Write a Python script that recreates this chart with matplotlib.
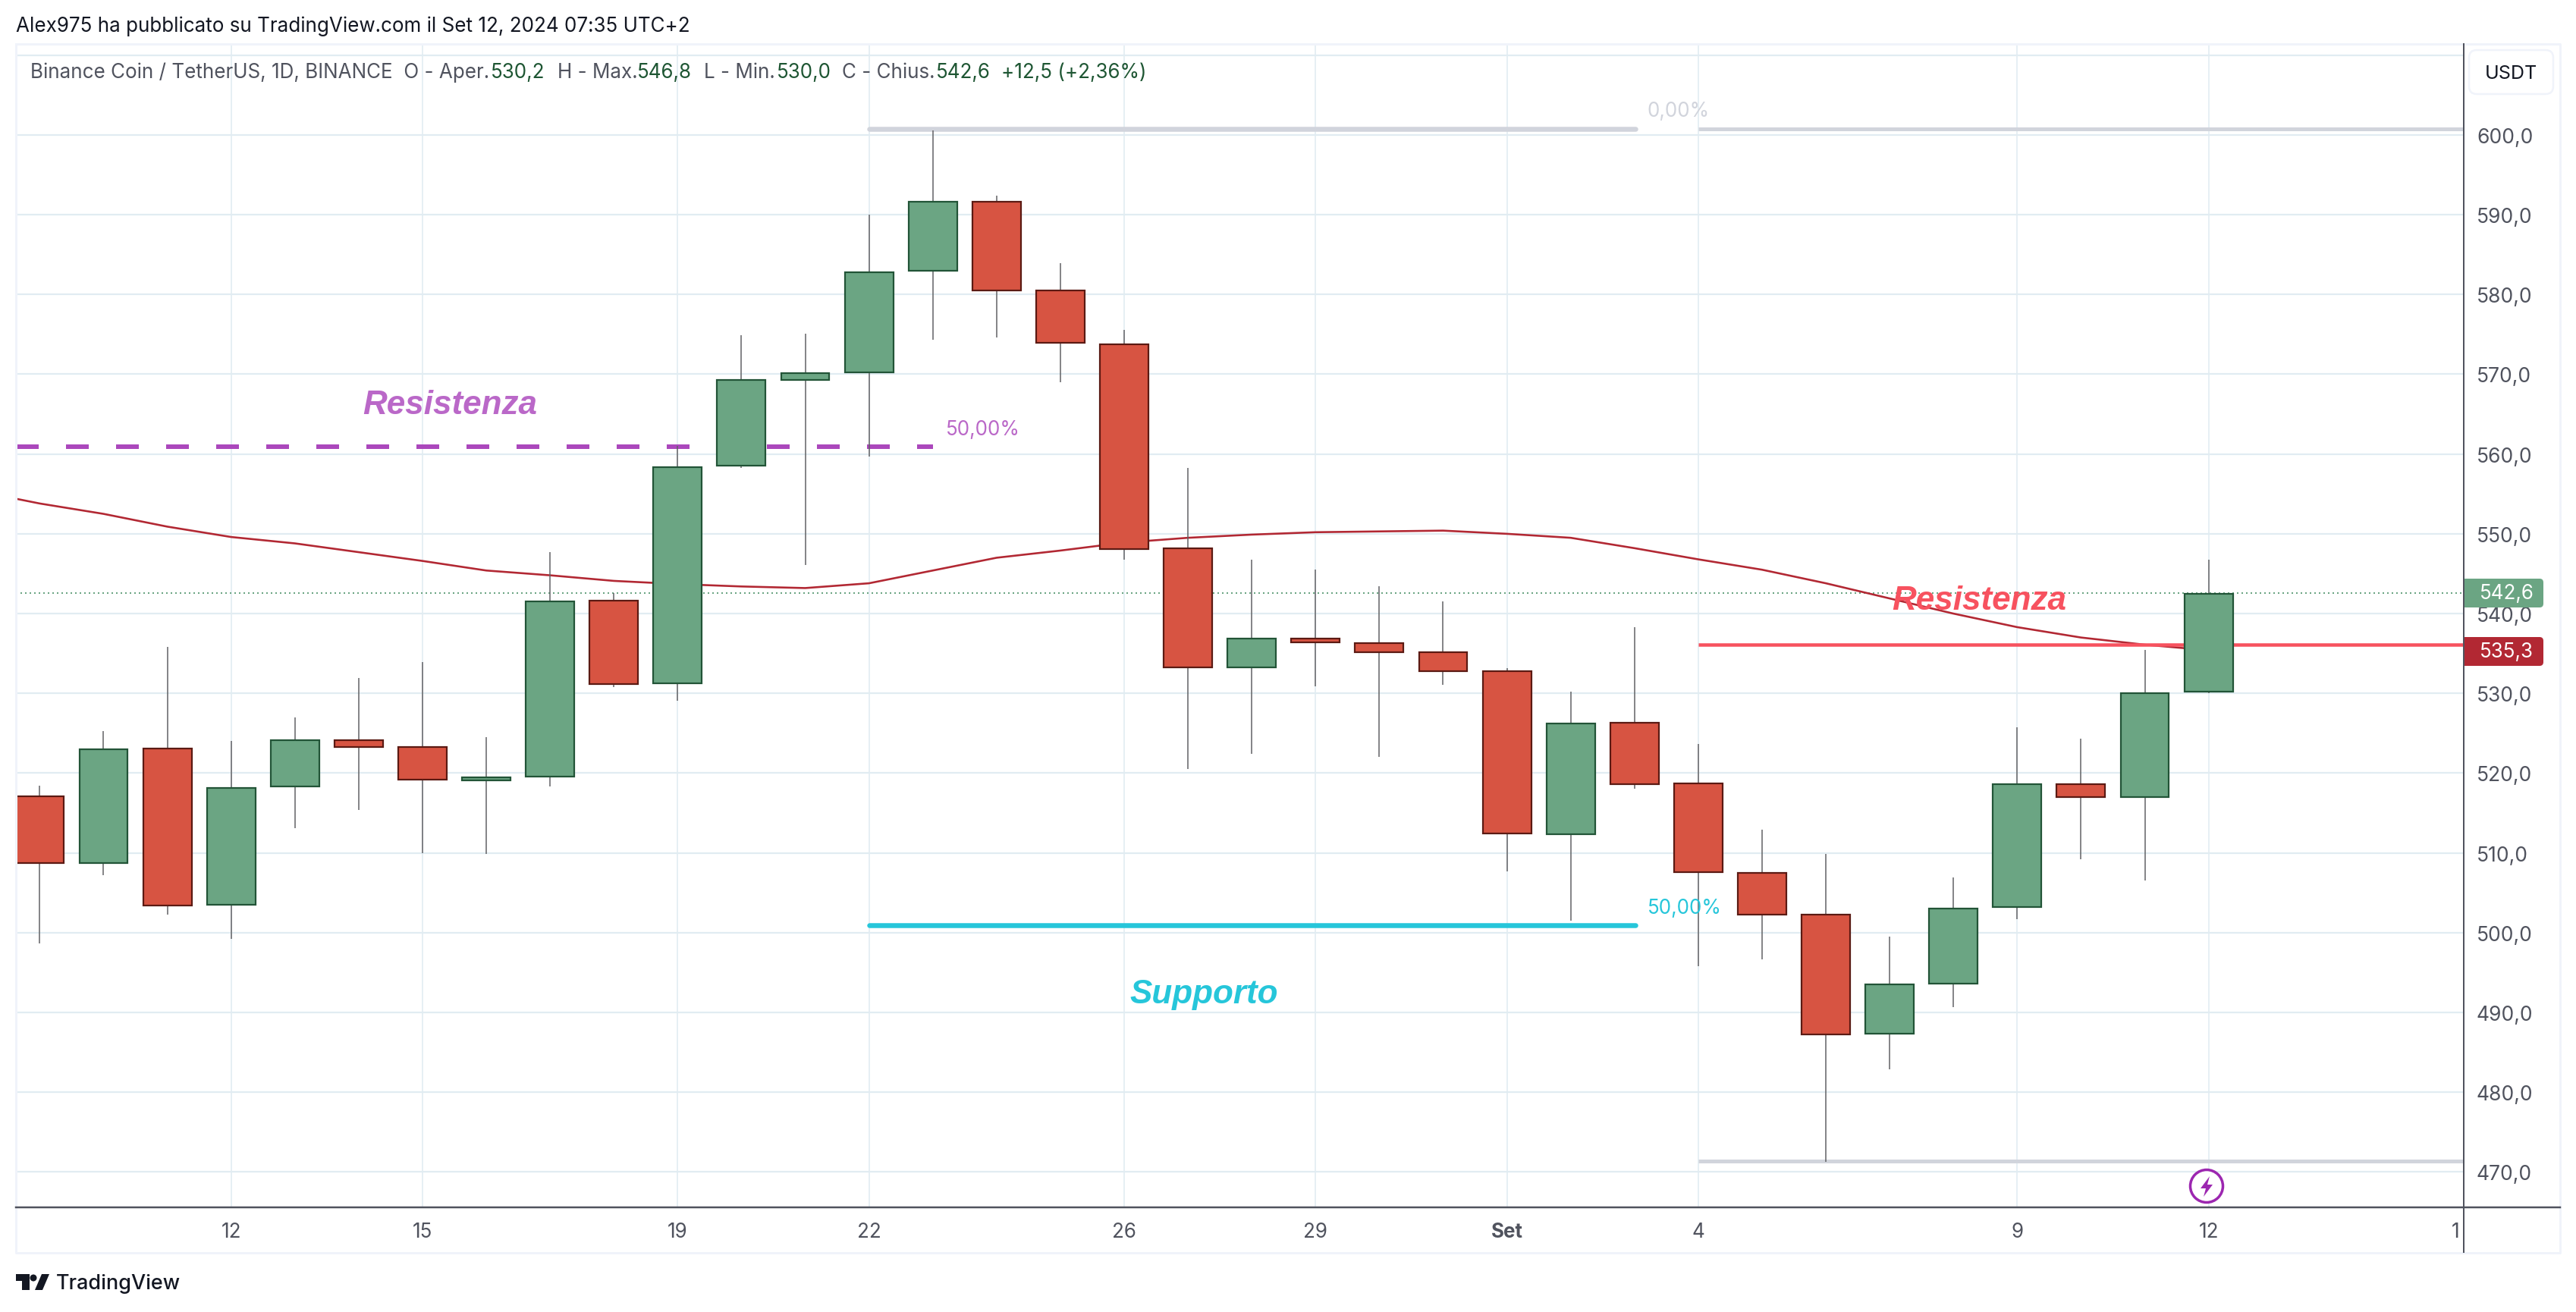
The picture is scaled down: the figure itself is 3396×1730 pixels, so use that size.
# -*- coding: utf-8 -*-
import matplotlib
matplotlib.use('Agg')
import matplotlib.pyplot as plt
from matplotlib.patches import Circle, FancyBboxPatch, Polygon, Rectangle

W, H = 3396, 1731
plt.rcParams['font.family'] = ['Inter', 'DejaVu Sans']

# daily candles, 9 Aug to 12 Sep 2024 (index 0 = 9 Aug)
opens = [517.1, 508.7, 523.1, 503.5, 518.3, 524.1, 523.3, 519.1, 519.6, 541.6, 531.3, 558.5,
         569.3, 570.2, 583.0, 591.6, 580.5, 573.8, 548.2, 533.3, 536.9, 536.3, 535.2, 532.8,
         512.3, 526.3, 518.7, 507.5, 502.3, 487.3, 493.6, 503.2, 518.6, 517.0, 530.2]
closes = [508.7, 523.0, 503.4, 518.1, 524.1, 523.3, 519.2, 519.5, 541.5, 531.2, 558.4, 569.3,
          570.1, 582.8, 591.6, 580.5, 573.9, 548.1, 533.3, 536.9, 536.4, 535.2, 532.8, 512.4,
          526.2, 518.6, 507.6, 502.3, 487.2, 493.5, 503.0, 518.6, 517.0, 530.0, 542.5]
highs = [518.4, 525.3, 535.8, 524.0, 527.0, 531.9, 533.9, 524.5, 547.7, 542.6, 561.0, 574.9,
         575.1, 590.0, 600.6, 592.4, 583.9, 575.6, 558.3, 546.8, 545.5, 543.4, 541.5, 533.2,
         530.2, 538.3, 523.7, 512.9, 509.9, 499.5, 506.9, 525.7, 524.3, 535.4, 546.8]
lows = [498.7, 507.2, 502.3, 499.2, 513.1, 515.4, 510.0, 509.9, 518.3, 530.8, 529.1, 558.3,
        546.1, 559.7, 574.3, 574.6, 569.0, 546.8, 520.5, 522.4, 530.9, 522.0, 531.1, 507.7,
        501.5, 518.0, 495.8, 496.7, 471.3, 482.9, 490.7, 501.7, 509.2, 506.5, 530.0]
# moving average, starts one day before the first candle
ma_line = [555.4, 553.8, 552.5, 550.9, 549.6, 548.8, 547.7, 546.6, 545.4, 544.8, 544.1, 543.7,
           543.4, 543.2, 543.8, 545.4, 547.0, 547.9, 548.9, 549.5, 549.9, 550.2, 550.3, 550.4,
           550.0, 549.5, 548.2, 546.8, 545.5, 543.8, 541.9, 540.0, 538.3, 537.0, 536.1, 535.4]

price_ticks = [470, 480, 490, 500, 510, 520, 530, 540, 550, 560, 570, 580, 590, 600, 610]
date_ticks = [3, 6, 10, 13, 17, 20, 23, 26, 31, 34]
date_labels = ['12', '15', '19', '22', '26', '29', 'Set', '4', '9', '12']

last_close = 542.6
resist_dash = 560.9
fib_top = 600.75
fib_mid = 500.9
fib_low = 471.4
resist_line = 536.1

up_col, up_edge = '#6BA583', '#225437'
dn_col, dn_edge = '#D75442', '#5B1A13'
grid_col = '#E1ECF2'
text_col = '#50535E'
val_col = '#1E5633'
fib_col = '#D1D4DC'
cyan = '#26C6DA'
purple = '#AB47BC'
light_purple = '#BA68C8'
red_line = '#F7525F'
ma_col = '#B22833'


def px(n):
    return n * 0.72


fig = plt.figure(figsize=(W / 100, H / 100), dpi=100, facecolor='white')
ax = fig.add_axes([21 / W, 1 - 1592.7 / H, (3248 - 21) / W, (1592.7 - 59) / H])
ax.set_xlim(-0.373, 38.0)
ax.set_ylim(465.6, 611.4)
for s in ax.spines.values():
    s.set_visible(False)

ax.set_yticks(price_ticks)
ax.set_yticklabels(['%d,0' % p if p < 610 else '' for p in price_ticks])
ax.yaxis.tick_right()
ax.set_xticks(date_ticks)
ax.set_xticklabels(date_labels)
ax.set_xticks([37.87], labels=['1'], minor=True)
ax.tick_params(axis='y', length=0, pad=px(17), labelsize=px(26.5), labelcolor=text_col)
ax.tick_params(axis='x', which='both', length=0, pad=px(19), labelsize=px(26), labelcolor=text_col)
ax.get_xticklabels()[6].set_fontweight('bold')
ax.grid(axis='both', which='major', color=grid_col, lw=px(2.2))
ax.grid(axis='x', which='major', lw=px(1.6))
ax.set_axisbelow(True)

# levels
xl, xr = ax.get_xlim()
ax.plot([xl, 14], [resist_dash] * 2, color=purple, lw=px(6), solid_capstyle='butt',
        dash_capstyle='butt', ls=(0, (30 / 6, 36 / 6)), zorder=2)
ax.plot([13, 25.02], [fib_top] * 2, color=fib_col, lw=px(6.5), solid_capstyle='round', zorder=2)
ax.plot([26, xr], [fib_top] * 2, color=fib_col, lw=px(5), solid_capstyle='butt', zorder=2)
ax.plot([13, 25.02], [fib_mid] * 2, color=cyan, lw=px(6.5), solid_capstyle='round', zorder=2)
ax.plot([26, xr], [fib_low] * 2, color=fib_col, lw=px(5), solid_capstyle='butt', zorder=2)
ax.plot([xl, xr], [last_close] * 2, color=up_col, lw=px(2), ls=(0, (1, 2)), zorder=2)
ax.plot(range(-1, len(ma_line) - 1), ma_line, color=ma_col, lw=px(2.6), zorder=3)
ax.plot([26, xr], [resist_line] * 2, color=red_line, lw=px(4.5), solid_capstyle='butt', zorder=3)

# candles
for i in range(len(opens)):
    up = closes[i] >= opens[i]
    ax.vlines(i, lows[i], highs[i], color='#5F5F62', lw=px(1.5), zorder=4)
    ax.bar(i, abs(closes[i] - opens[i]), bottom=min(opens[i], closes[i]), width=0.76,
           color=up_col if up else dn_col, edgecolor=up_edge if up else dn_edge,
           linewidth=px(2.2), zorder=5)

# annotations
big = dict(family=['Liberation Sans', 'DejaVu Sans'], weight='bold', style='italic',
           size=px(44), ha='center', va='baseline', zorder=7)
ax.text(6.43, 565.1, 'Resistenza', color=light_purple, **big)
ax.text(30.4, 540.55, 'Resistenza', color=red_line, **big)
ax.text(18.25, 491.2, 'Supporto', color=cyan, **big)
small = dict(size=px(26), ha='left', va='baseline', zorder=7)
ax.text(14.2, 562.4, '50,00%', color=light_purple, **small)
ax.text(25.2, 602.4, '0,00%', color=fib_col, **small)
ax.text(25.2, 502.5, '50,00%', color=cyan, **small)

# page furniture, in pixels of the picture
ov = fig.add_axes([0, 0, 1, 1], facecolor='none')
ov.set_xlim(0, W)
ov.set_ylim(H, 0)
ov.axis('off')

ov.plot([21, 3375, 3375, 21, 21], [59, 59, 1653, 1653, 59], color='#F0F3FA', lw=px(3))
ov.plot([21, 3375], [1592.7, 1592.7], color=text_col, lw=px(2.5))
ov.plot([3248, 3248], [59, 1652], color=text_col, lw=px(2))

ov.text(21, 35, 'Alex975 ha pubblicato su TradingView.com il Set 12, 2024 07:35 UTC+2',
        color='#131722', size=px(26), va='center')
legend_bits = [
    (40, 'Binance Coin / TetherUS, 1D, BINANCE  O - Aper.', text_col),
    (647, '530,2', val_col),
    (735, 'H - Max.', text_col),
    (840, '546,8', val_col),
    (928, 'L - Min.', text_col),
    (1023.5, '530,0', val_col),
    (1110, 'C - Chius.', text_col),
    (1234, '542,6', val_col),
    (1320, '+12,5 (+2,36%)', val_col),
]
for lx, txt, col in legend_bits:
    ov.text(lx, 96, txt, color=col, size=px(26), va='center')

ov.add_patch(FancyBboxPatch((3262, 74), 97, 44, boxstyle='round,pad=7,rounding_size=10',
                            fc='white', ec='#F0F3FA', lw=px(2.5)))
ov.text(3310.5, 98, 'USDT', color='#131722', size=px(25), ha='center', va='center')

# price labels on the scale
for top, bottom, col, txt in [(764, 802, up_col, '542,6'), (841, 879, ma_col, '535,3')]:
    ov.add_patch(FancyBboxPatch((3254, top + 5), 94, bottom - top - 10,
                                boxstyle='round,pad=5,rounding_size=5', fc=col, ec='none', zorder=5))
    ov.add_patch(Rectangle((3249, top), 20, bottom - top, fc=col, ec='none', zorder=5))
    ov.text(3269, (top + bottom) / 2, txt, color='white', size=px(26), va='center', zorder=6)

# bolt mark
ov.add_patch(Circle((2909, 1565), 21.5, fc='white', ec='#9C27B0', lw=px(3.5), zorder=6))
ov.add_patch(Polygon([(2913, 1552), (2901, 1568), (2908, 1568), (2905, 1579), (2917, 1563),
                      (2910, 1563)], fc='#9C27B0', ec='none', zorder=7))

# TradingView logo
logo = '#131722'
ov.add_patch(Polygon([(21, 1681), (39, 1681), (39, 1702), (29, 1702), (29, 1690), (21, 1690)],
                     fc=logo, ec='none'))
ov.add_patch(Circle((44, 1686), 4.5, fc=logo, ec='none'))
ov.add_patch(Polygon([(55, 1681), (65, 1681), (56, 1702), (46, 1702)], fc=logo, ec='none'))
ov.text(74, 1693, 'TradingView', color=logo, size=px(27), weight='medium', va='center')

fig.savefig('out.png', dpi=100, facecolor='white')
